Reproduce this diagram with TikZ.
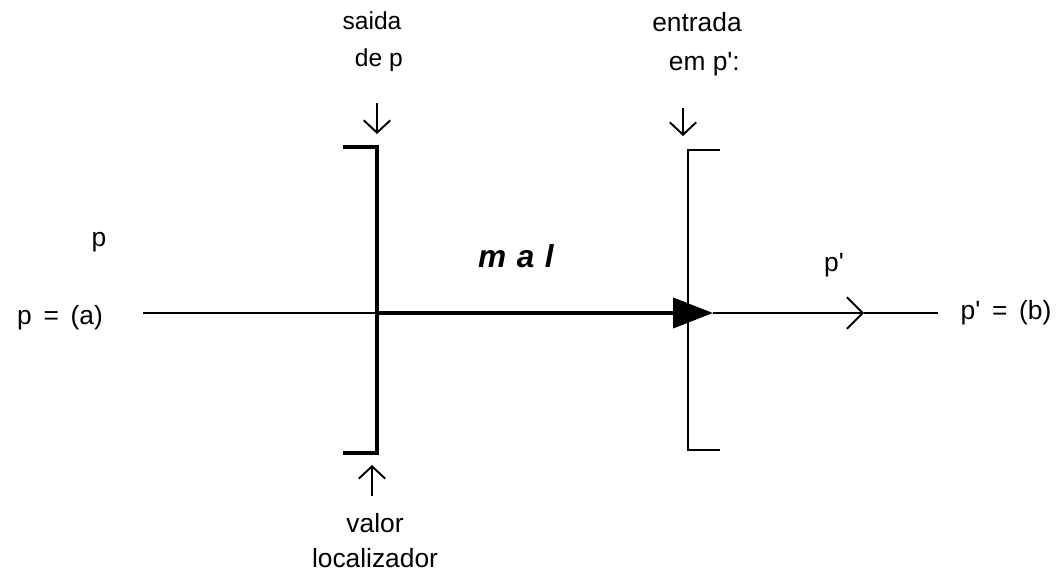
\documentclass[tikz,border=0pt]{standalone}
\usepackage{fontspec}
\setmainfont{Liberation Sans}
\usetikzlibrary{arrows.meta, positioning}

\tikzset{
  lbl/.style={font=\fontsize{15}{17}\selectfont, inner sep=0pt, align=center},
  mainline/.style={line width=1.1pt},
  thickbar/.style={line width=2.3pt},
  thinbar/.style={line width=1.1pt},
  pointer/.style={line width=1.1pt, -{Straight Barb[length=7pt,width=15pt]}},
}

\begin{document}
\begin{tikzpicture}[x=0.02cm, y=-0.02cm]
\useasboundingbox (0,0) rectangle (1064,574);
% labels
\node (pa) at (60,318) [lbl] {p\,\ =\,\ (a)};
\node (pb) at (1006,313) [lbl] {p\textquotesingle\,\ =\,\ (b)};
\node (p) at (99,242) [lbl] {p};
\node (pp) at (834,265) [lbl] {p\textquotesingle};
\node (saida) at (372,42) [lbl, font=\fontsize{14}{16}\selectfont] {saida\\[5pt]\ \ de p};
\node (entrada) at (697,44) [lbl] {entrada\\[5pt]\ \ em p\textquotesingle:};
\node (valor) at (375,541) [lbl] {valor\\[3pt]localizador};
\node (mal) at (516,256) [lbl, font=\fontsize{18}{20}\selectfont\bfseries\itshape] {m\,\,a\,\,l};
% points on the line
\coordinate (start) at (143,313);
\coordinate (cut1) at (377,313);
\coordinate (cut2) at (713,313);
\coordinate (barb) at (864,313);
\coordinate (stop) at (938,313);
% brackets
\draw [thickbar] (343,147) -- (377,147) -- (377,453) -- (343,453);
\draw [thinbar] (720,150) -- (688,150) -- (688,450) -- (720,450);
% main line
\draw [mainline] (start) -- (cut1);
\draw [line width=2.3pt, -{Triangle[length=0.8cm,width=0.6cm]}] (cut1) -- (cut2);
\draw [mainline, -{Straight Barb[length=9pt,width=18pt]}] (cut2) -- (barb);
\draw [mainline] (barb) -- (stop);
% small arrows
\draw [pointer] (377,103) -- (377,134);
\draw [pointer] (683,108) -- (683,136);
\draw [pointer] (372,496) -- (372,465);
\end{tikzpicture}
\end{document}
